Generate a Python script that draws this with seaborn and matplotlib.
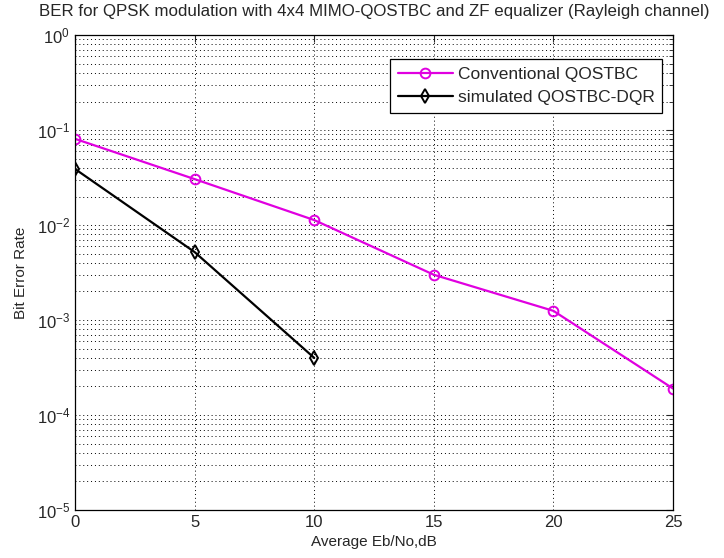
import numpy as np
import pandas as pd
import matplotlib
matplotlib.use("Agg")
import matplotlib.pyplot as plt
import seaborn as sns
from matplotlib.ticker import LogLocator, NullLocator, FixedLocator

sns.set_style("white")
plt.rcParams["font.family"] = ["Liberation Sans", "DejaVu Sans"]
plt.rcParams["mathtext.fontset"] = "custom"
plt.rcParams["mathtext.rm"] = "Liberation Sans"
plt.rcParams["mathtext.it"] = "Liberation Sans"

# Data
snr_conv = [0, 5, 10, 15, 20, 25]
ber_conv = [0.081, 0.0305, 0.0113, 0.0030, 0.00125, 0.00019]
snr_dqr = [0, 5, 10]
ber_dqr = [0.039, 0.0052, 0.0004]
labels = ["Conventional QOSTBC", "simulated QOSTBC-DQR"]
xticks = [0, 5, 10, 15, 20, 25]

df_conv = pd.DataFrame({"snr": snr_conv, "ber": ber_conv})
df_dqr = pd.DataFrame({"snr": snr_dqr, "ber": ber_dqr})

fig = plt.figure(figsize=(7.24, 5.58), dpi=100)
ax = fig.add_axes([0.1036, 0.086, 0.826, 0.851])

sns.lineplot(data=df_conv, x="snr", y="ber", ax=ax, color="#e000e0",
             linewidth=1.6, marker="o", markersize=7, markerfacecolor="none",
             markeredgecolor="#e000e0", markeredgewidth=1.4, label=labels[0])
sns.lineplot(data=df_dqr, x="snr", y="ber", ax=ax, color="black",
             linewidth=1.6, marker="d", markersize=7, markerfacecolor="none",
             markeredgecolor="black", markeredgewidth=1.4, label=labels[1])

ax.set_yscale("log")
ax.set_xlim(0, 25)
ax.set_ylim(1e-5, 1)
ax.xaxis.set_major_locator(FixedLocator(xticks))
ax.xaxis.set_minor_locator(NullLocator())
ax.yaxis.set_major_locator(LogLocator(base=10, numticks=10))
ax.yaxis.set_minor_locator(LogLocator(base=10, subs=np.arange(2, 10), numticks=10))

ax.grid(which="major", axis="both", linestyle=(0, (1, 3)), color="black", linewidth=0.7)
ax.grid(which="minor", axis="y", linestyle=(0, (1, 3)), color="black", linewidth=0.7)

ax.tick_params(which="both", direction="in", top=True, right=True, labelsize=12)
ax.tick_params(which="major", length=5)
ax.tick_params(which="minor", length=3)
for s in ax.spines.values():
    s.set_color("black")
    s.set_linewidth(0.9)

ax.set_title("BER for QPSK modulation with 4x4 MIMO-QOSTBC and ZF equalizer (Rayleigh channel)",
             fontsize=12.2, pad=14)
ax.set_xlabel("Average Eb/No,dB", fontsize=11, labelpad=4)
ax.set_ylabel("Bit Error Rate", fontsize=11, labelpad=6)

leg = ax.legend(loc="upper right", bbox_to_anchor=(0.982, 0.949), borderaxespad=0,
                fancybox=False, framealpha=1, edgecolor="black", fontsize=12.5,
                handlelength=3.2, handletextpad=0.25, borderpad=0.45,
                labelspacing=0.45)
leg.get_frame().set_linewidth(0.9)

fig.savefig("out.png", dpi=100)
